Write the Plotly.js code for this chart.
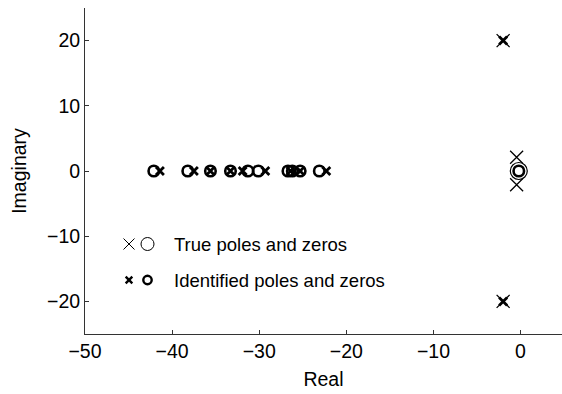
<!DOCTYPE html>
<html>
<head>
<meta charset="utf-8">
<script src="https://cdn.plot.ly/plotly-3.0.1.min.js"></script>
<style>html,body{margin:0;padding:0;background:#fff;}#chart{width:562px;height:394px;}</style>
</head>
<body>
<div id="chart"></div>
<script>
// True poles and zeros
var truePolesRe = [-2, -2, -0.45, -0.45];
var truePolesIm = [20, -20, 2.1, -2.1];
var trueZerosRe = [-0.2];
var trueZerosIm = [0];
// Identified poles and zeros
var idPolesRe = [-2, -2, -41.4, -37.5, -35.6, -33.3, -31.9, -29.3, -26.4, -25.3, -22.3];
var idPolesIm = [20, -20, 0, 0, 0, 0, 0, 0, 0, 0, 0];
var idZerosRe = [-0.2, -42.1, -38.2, -35.6, -33.3, -31.3, -30.1, -26.7, -26.2, -25.3, -23.1];
var idZerosIm = [0, 0, 0, 0, 0, 0, 0, 0, 0, 0, 0];

var legendLabels = ['True poles and zeros', 'Identified poles and zeros'];

var FONT = 'Liberation Sans, Arial, sans-serif';

var traces = [
  {x: truePolesRe, y: truePolesIm, type: 'scatter', mode: 'markers',
   marker: {symbol: 'x-thin-open', size: 13, color: '#000', line: {width: 1.3, color: '#000'}}},
  {x: trueZerosRe, y: trueZerosIm, type: 'scatter', mode: 'markers',
   marker: {symbol: 'circle-open', size: 17, color: '#000', line: {width: 1.2, color: '#000'}}},
  {x: idPolesRe, y: idPolesIm, type: 'scatter', mode: 'markers',
   marker: {symbol: 'x-thin-open', size: 8, color: '#000', line: {width: 2.8, color: '#000'}}},
  {x: idZerosRe, y: idZerosIm, type: 'scatter', mode: 'markers',
   marker: {symbol: 'circle-open', size: 10.5, color: '#000', line: {width: 2.6, color: '#000'}}}
];

function px2x(p){ return (p - 85) / 477; }
function py2y(p){ return (334 - p) / 326; }

var shapes = [];
function xShape(cx, cy, half, w){
  shapes.push({type:'line', xref:'paper', yref:'paper', xsizemode:'pixel', ysizemode:'pixel',
    xanchor: px2x(cx), yanchor: py2y(cy), x0:-half, x1:half, y0:-half, y1:half, line:{color:'#000', width:w}});
  shapes.push({type:'line', xref:'paper', yref:'paper', xsizemode:'pixel', ysizemode:'pixel',
    xanchor: px2x(cx), yanchor: py2y(cy), x0:-half, x1:half, y0:half, y1:-half, line:{color:'#000', width:w}});
}
function oShape(cx, cy, r, w){
  shapes.push({type:'circle', xref:'paper', yref:'paper', xsizemode:'pixel', ysizemode:'pixel',
    xanchor: px2x(cx), yanchor: py2y(cy), x0:-r, x1:r, y0:-r, y1:r, line:{color:'#000', width:w}});
}
xShape(129, 244, 5.5, 1);
oShape(147.5, 244, 6.5, 1);
xShape(129, 280, 3.3, 2.4);
oShape(147.5, 280, 4.2, 2.4);

var annotations = [
  {xref:'paper', yref:'paper', x: px2x(172), y: py2y(244), xanchor:'left', yanchor:'middle',
   text: legendLabels[0], showarrow:false, font:{family: FONT, size:18.5, color:'#000'}},
  {xref:'paper', yref:'paper', x: px2x(172), y: py2y(280), xanchor:'left', yanchor:'middle',
   text: legendLabels[1], showarrow:false, font:{family: FONT, size:18.5, color:'#000'}}
];

var axisCommon = {
  showgrid: false, zeroline: false, showline: true, linecolor: '#333', linewidth: 1,
  ticks: 'inside', ticklen: 4, tickcolor: '#333', tickwidth: 1,
  tickfont: {family: FONT, size: 19.5, color: '#000'}
};

var layout = {
  width: 562, height: 394,
  margin: {l: 85, r: 0, t: 8, b: 60},
  paper_bgcolor: '#fff', plot_bgcolor: '#fff',
  showlegend: false,
  xaxis: Object.assign({}, axisCommon, {
    range: [-50, 4.76], tickvals: [-50, -40, -30, -20, -10, 0],
    ticktext: ['\u221250', '\u221240', '\u221230', '\u221220', '\u221210', '0'],
    title: {text: 'Real', font: {family: FONT, size: 19.5, color: '#000'}, standoff: 10}
  }),
  yaxis: Object.assign({}, axisCommon, {
    range: [-25, 25], tickvals: [-20, -10, 0, 10, 20],
    ticktext: ['\u221220', '\u221210', '0', '10', '20'],
    title: {text: 'Imaginary', font: {family: FONT, size: 19.5, color: '#000'}, standoff: 15}
  }),
  shapes: shapes,
  annotations: annotations
};

Plotly.newPlot('chart', traces, layout, {displayModeBar: false, staticPlot: true});
</script>
</body>
</html>
